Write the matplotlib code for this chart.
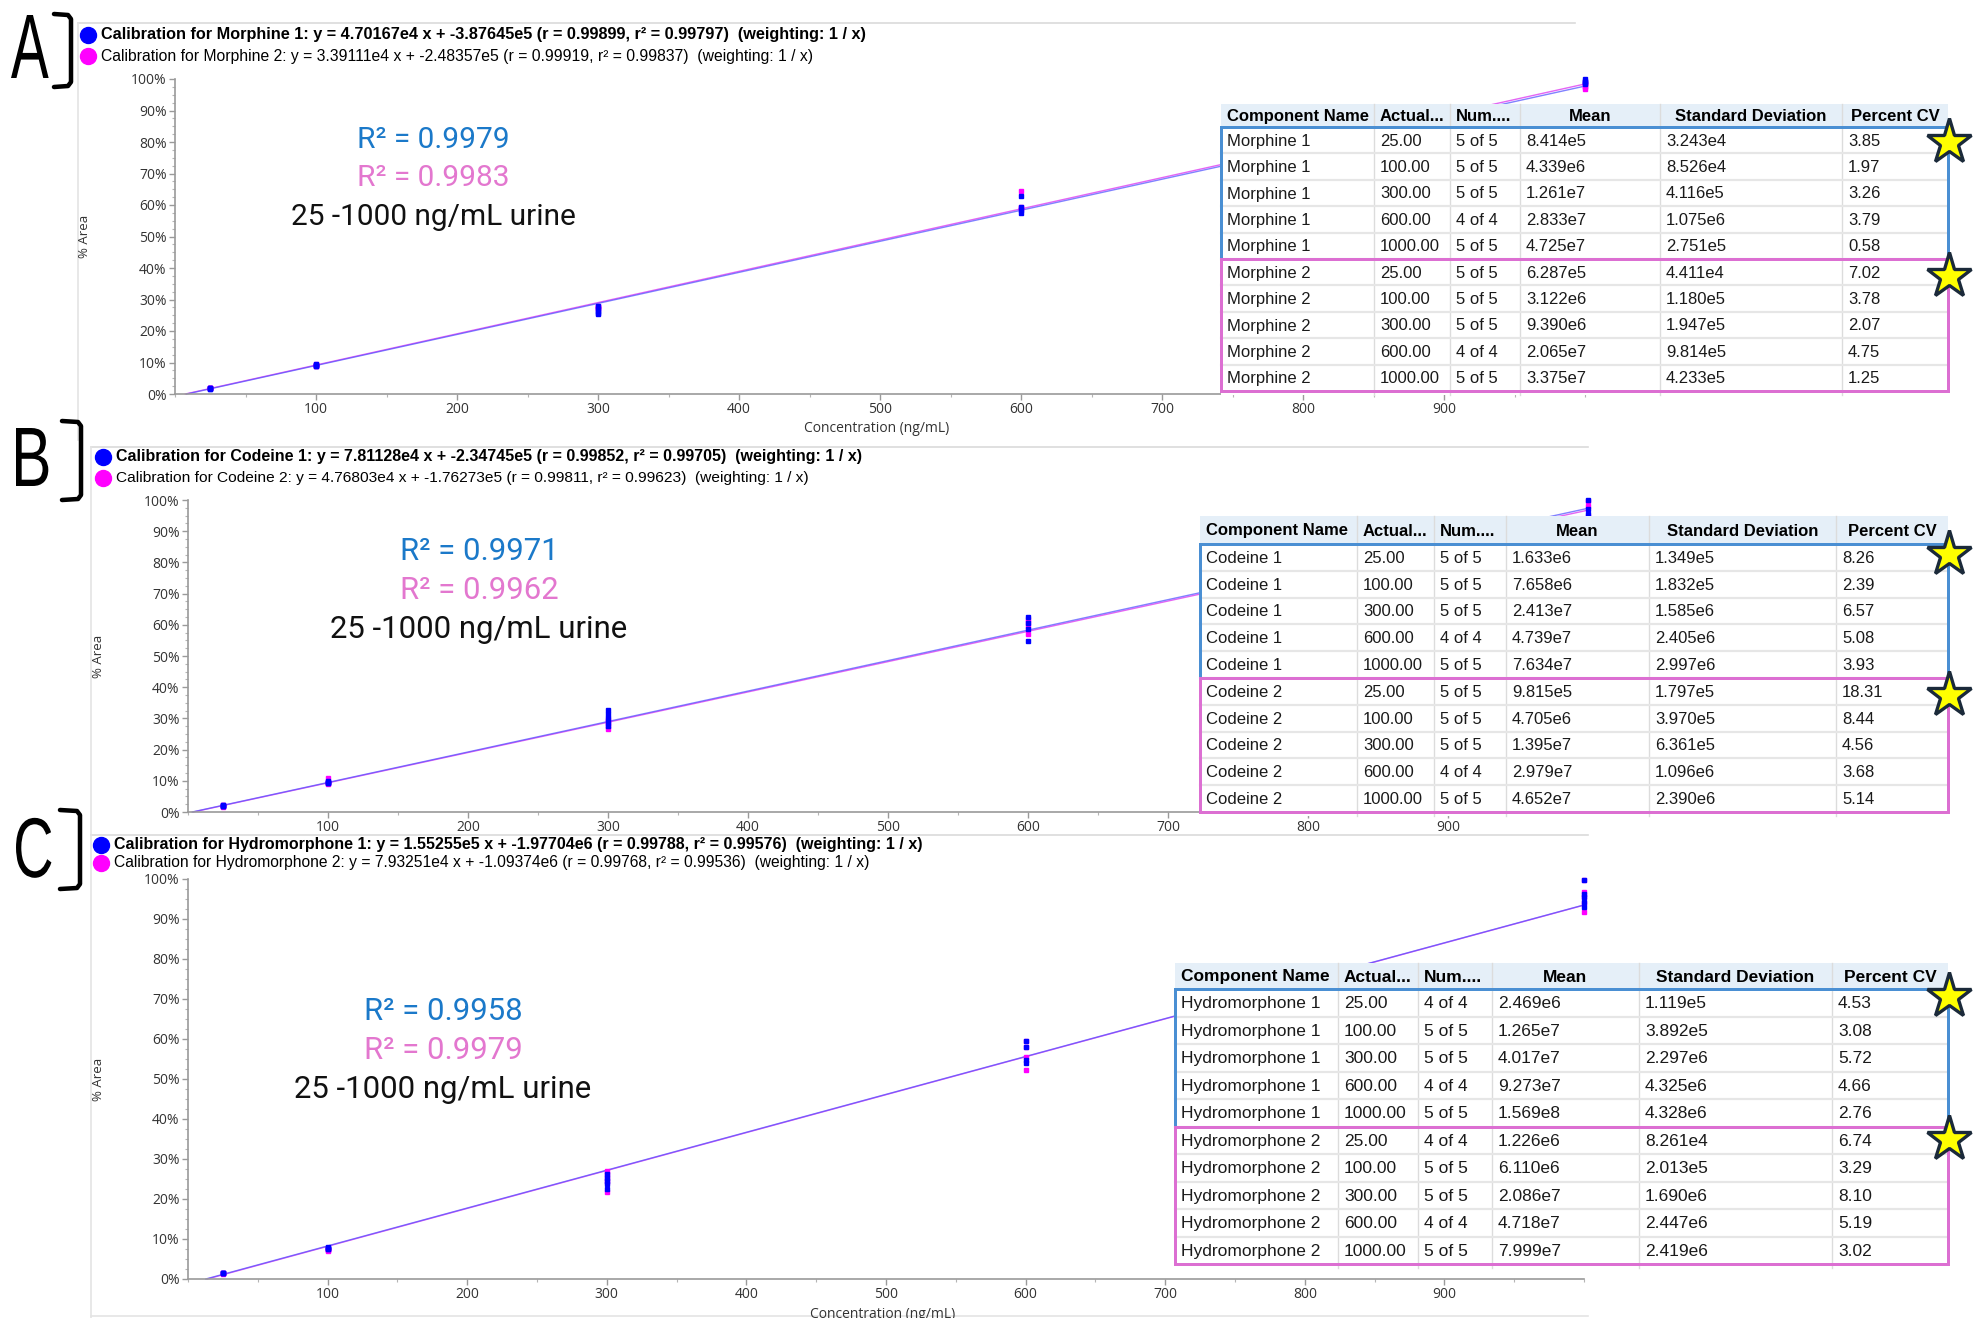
import numpy as np
import matplotlib
matplotlib.use("Agg")
import matplotlib.pyplot as plt
from matplotlib.patches import Rectangle, PathPatch
from matplotlib.ticker import MultipleLocator
from matplotlib.textpath import TextPath
from matplotlib.font_manager import FontProperties
from matplotlib.transforms import Affine2D

W, H, DPI = 1984, 1318, 100

# ---------------------------------------------------------------- data
conc_levels = [25, 100, 300, 600, 1000]
x_tick_values = [100, 200, 300, 400, 500, 600, 700, 800, 900]
y_tick_values = [0, 10, 20, 30, 40, 50, 60, 70, 80, 90, 100]

# calibration fits: slope, intercept, r, r^2
morphine1_fit = (4.70167e4, -3.87645e5, 0.99899, 0.99797)
morphine2_fit = (3.39111e4, -2.48357e5, 0.99919, 0.99837)
codeine1_fit = (7.81128e4, -2.34745e5, 0.99852, 0.99705)
codeine2_fit = (4.76803e4, -1.76273e5, 0.99811, 0.99623)
hydro1_fit = (1.55255e5, -1.97704e6, 0.99788, 0.99576)
hydro2_fit = (7.93251e4, -1.09374e6, 0.99768, 0.99536)

# peak area corresponding to 100 % on the y axis
morphine1_full_scale = 4.77e7
morphine2_full_scale = 3.42e7
codeine1_full_scale = 8.00e7
codeine2_full_scale = 4.91e7
hydro1_full_scale = 1.639e8
hydro2_full_scale = 8.37e7

# replicate responses (% area) per calibration level
morphine1_pct = [[1.70, 1.74, 1.76, 1.80, 1.82],
                 [8.9, 9.0, 9.1, 9.2, 9.4],
                 [25.3, 25.8, 26.3, 27.0, 27.8],
                 [57.5, 58.5, 59.5, 62.9],
                 [98.4, 98.8, 99.1, 99.5, 100.0]]
morphine2_pct = [[1.75, 1.80, 1.84, 1.88, 1.92],
                 [8.8, 8.9, 9.1, 9.2, 9.4],
                 [27.0, 27.3, 27.5, 27.7, 28.0],
                 [58.8, 59.0, 59.5, 64.3],
                 [96.9, 97.4, 97.9, 98.4, 99.0]]
codeine1_pct = [[1.85, 1.95, 2.0, 2.1, 2.3],
                [9.3, 9.45, 9.55, 9.7, 9.85],
                [27.5, 29.0, 30.2, 31.5, 32.8],
                [54.9, 58.8, 60.6, 62.5],
                [91.0, 93.5, 95.5, 97.0, 100.0]]
codeine2_pct = [[1.6, 1.8, 2.0, 2.2, 2.4],
                [8.9, 9.2, 9.4, 9.6, 10.8],
                [26.6, 27.6, 28.6, 29.3, 29.9],
                [57.0, 59.5, 61.0, 62.0],
                [88.5, 92.5, 95.0, 98.0, 99.6]]
hydro1_pct = [[1.40, 1.45, 1.55, 1.60],
              [7.4, 7.6, 7.7, 7.8, 8.0],
              [22.5, 23.8, 24.6, 25.3, 26.3],
              [54.0, 54.8, 58.0, 59.4],
              [93.0, 94.2, 95.5, 96.2, 99.8]]
hydro2_pct = [[1.35, 1.42, 1.50, 1.57],
              [7.0, 7.2, 7.3, 7.4, 7.6],
              [21.8, 24.3, 25.2, 26.2, 26.9],
              [52.3, 55.5, 58.0, 59.6],
              [91.8, 94.0, 95.5, 96.8, 99.8]]

r2_labels_A = ["0.9979", "0.9983"]
r2_labels_B = ["0.9971", "0.9962"]
r2_labels_C = ["0.9958", "0.9979"]
range_label = "25 -1000 ng/mL urine"

# statistics tables
table_header = ["Component Name", "Actual...", "Num....", "Mean",
                "Standard Deviation", "Percent CV"]
actual_col = ["25.00", "100.00", "300.00", "600.00", "1000.00"] * 2

morphine_names = ["Morphine 1"] * 5 + ["Morphine 2"] * 5
morphine_num = ["5 of 5", "5 of 5", "5 of 5", "4 of 4", "5 of 5"] * 2
morphine_mean = ["8.414e5", "4.339e6", "1.261e7", "2.833e7", "4.725e7",
                 "6.287e5", "3.122e6", "9.390e6", "2.065e7", "3.375e7"]
morphine_sd = ["3.243e4", "8.526e4", "4.116e5", "1.075e6", "2.751e5",
               "4.411e4", "1.180e5", "1.947e5", "9.814e5", "4.233e5"]
morphine_cv = ["3.85", "1.97", "3.26", "3.79", "0.58",
               "7.02", "3.78", "2.07", "4.75", "1.25"]

codeine_names = ["Codeine 1"] * 5 + ["Codeine 2"] * 5
codeine_num = ["5 of 5", "5 of 5", "5 of 5", "4 of 4", "5 of 5"] * 2
codeine_mean = ["1.633e6", "7.658e6", "2.413e7", "4.739e7", "7.634e7",
                "9.815e5", "4.705e6", "1.395e7", "2.979e7", "4.652e7"]
codeine_sd = ["1.349e5", "1.832e5", "1.585e6", "2.405e6", "2.997e6",
              "1.797e5", "3.970e5", "6.361e5", "1.096e6", "2.390e6"]
codeine_cv = ["8.26", "2.39", "6.57", "5.08", "3.93",
              "18.31", "8.44", "4.56", "3.68", "5.14"]

hydro_names = ["Hydromorphone 1"] * 5 + ["Hydromorphone 2"] * 5
hydro_num = ["4 of 4", "5 of 5", "5 of 5", "4 of 4", "5 of 5"] * 2
hydro_mean = ["2.469e6", "1.265e7", "4.017e7", "9.273e7", "1.569e8",
              "1.226e6", "6.110e6", "2.086e7", "4.718e7", "7.999e7"]
hydro_sd = ["1.119e5", "3.892e5", "2.297e6", "4.325e6", "4.328e6",
            "8.261e4", "2.013e5", "1.690e6", "2.447e6", "2.419e6"]
hydro_cv = ["4.53", "3.08", "5.72", "4.66", "2.76",
            "6.74", "3.29", "8.10", "5.19", "3.02"]

# ---------------------------------------------------------------- style
BLUE_PT = "#0000ff"
PINK_PT = "#ff00ff"
BLUE_LINE = "#5050ff"
PINK_LINE = "#e464f4"
R2_BLUE = "#1b79c9"
R2_PINK = "#e377cf"
BOX_BLUE = "#4a8fd3"
BOX_PINK = "#dc6fd2"
AXIS_GRAY = "#9a9a9a"
TEXT_GRAY = "#333333"
UI_FONT = ["Liberation Sans Narrow", "Liberation Sans", "DejaVu Sans"]
TICK_FONT = ["Open Sans", "DejaVu Sans"]
BIG_FONT = ["Roboto", "DejaVu Sans"]

fig = plt.figure(figsize=(W / DPI, H / DPI), dpi=DPI)
fig.patch.set_facecolor("white")

back = fig.add_axes([0, 0, 1, 1], zorder=0)
back.set_xlim(0, W)
back.set_ylim(H, 0)
back.axis("off")

over = fig.add_axes([0, 0, 1, 1], zorder=5)
over.set_xlim(0, W)
over.set_ylim(H, 0)
over.axis("off")
over.patch.set_alpha(0)

renderer = fig.canvas.get_renderer()


def px(v):
    """pixel length -> points"""
    return v * 72.0 / DPI


def sci(v):
    mant, ex = f"{v:.5e}".split("e")
    return f"{mant}e{int(ex)}"


def fit_label(name, fit):
    m, b, r, r2 = fit
    return (f"Calibration for {name}: y = {sci(m)} x + {sci(b)} "
            f"(r = {r:.5f}, r\u00b2 = {r2:.5f})  (weighting: 1 / x)")


def fitted_text(x, y, s, width, size0, **kw):
    t = over.text(x, y, s, fontsize=size0, va="center", ha="left", **kw)
    w = t.get_window_extent(renderer).width
    t.set_fontsize(size0 * width / w)
    return t


def condensed_letter(ch, left, base, cap, squeeze):
    """Draw a tall, narrow panel letter as a filled outline."""
    tp = TextPath((0, 0), ch, size=100,
                  prop=FontProperties(family="Liberation Sans"))
    ext = tp.get_extents()
    k = cap / ext.height
    tr = (Affine2D().translate(-ext.x0, 0).scale(k * squeeze, -k)
          .translate(left, base) + over.transData)
    over.add_patch(PathPatch(tp, transform=tr, facecolor="black",
                             edgecolor="none", zorder=6))


def draw_panel(frame, letter, plot_box, fits, scales, pcts, names,
               legend_pos, legend_widths, r2_vals, r2_pos, r2_size,
               table, show_xlabel):
    # light frame of the exported plot window
    fx0, fy0, fx1, fy1 = frame
    back.plot([fx0, fx1], [fy0, fy0], color="#dadada", lw=1.2)
    back.plot([fx0, fx0], [fy0, fy1], color="#e4e4e4", lw=1.2)

    # panel letter with bracket
    condensed_letter(letter["text"], letter["left"], letter["base"],
                     letter["cap"], letter["squeeze"])
    bx0, bx1, by0, by1 = letter["bracket"]
    over.plot([bx0, bx1 - 3, bx1, bx1, bx1 - 3, bx0],
              [by0, by0 + 1, by0 + 5, by1 - 5, by1 - 1, by1],
              color="black", lw=px(4.5), solid_joinstyle="round",
              solid_capstyle="round")

    # legend header
    lgx, lgy1, lgy2 = legend_pos
    for (yy, col, txt, wd, bold) in [
            (lgy1, BLUE_PT, fit_label(names[0], fits[0]), legend_widths[0], True),
            (lgy2, PINK_PT, fit_label(names[1], fits[1]), legend_widths[1], False)]:
        over.plot([lgx - 13], [yy], "o", ms=11.5, color=col, mec=col)
        fitted_text(lgx, yy, txt, wd, 10, family=UI_FONT,
                    fontweight="bold" if bold else "normal", color="black")

    # plot axes
    x0, y_top, y_bot, p100 = plot_box
    ax = fig.add_axes([x0 / W, (H - y_bot) / H, p100 * 10 / W,
                       (y_bot - y_top) / H], zorder=2)
    ax.set_facecolor("none")
    ax.set_xlim(0, 1000)
    ax.set_ylim(0, 100)
    for s in ("top", "right"):
        ax.spines[s].set_visible(False)
    for s in ("left", "bottom"):
        ax.spines[s].set_color(AXIS_GRAY)
        ax.spines[s].set_linewidth(1.2)
    ax.set_xticks(x_tick_values)
    ax.set_xticklabels([str(v) for v in x_tick_values])
    ax.set_yticks(y_tick_values)
    ax.set_yticklabels([f"{v}%" for v in y_tick_values])
    ax.xaxis.set_minor_locator(MultipleLocator(50))
    ax.yaxis.set_minor_locator(MultipleLocator(2.5))
    ax.tick_params(which="major", length=4, width=1, color=AXIS_GRAY,
                   labelsize=10, labelcolor=TEXT_GRAY, pad=2)
    ax.tick_params(which="minor", length=2, width=0.8, color="#b5b5b5")
    for lab in ax.get_xticklabels() + ax.get_yticklabels():
        lab.set_family(TICK_FONT)

    # regression lines (pink beneath, blue above)
    for fit, fs, col, alpha in [(fits[1], scales[1], PINK_LINE, 1.0),
                                (fits[0], scales[0], BLUE_LINE, 0.72)]:
        m, b = fit[0], fit[1]
        xs = np.array([-b / m, 1000.0])
        ax.plot(xs, (m * xs + b) / fs * 100, color=col, lw=1.0, alpha=alpha,
                clip_on=False, zorder=2)

    # replicate points
    for reps, col in [(pcts[1], PINK_PT), (pcts[0], BLUE_PT)]:
        for c, vals in zip(conc_levels, reps):
            ax.plot([c] * len(vals), vals, "s", ms=3.0, color=col, mec=col,
                    clip_on=False, zorder=3)

    # axis titles
    ax_cx = x0 + p100 * 5
    over.text(x0 - 90, (y_top + y_bot) / 2, "% Area", rotation=90,
              ha="center", va="center", fontsize=9.5, family=TICK_FONT,
              color=TEXT_GRAY, zorder=1)
    if show_xlabel:
        over.text(ax_cx - 3, y_bot + 35, "Concentration (ng/mL)", ha="center",
                  va="center", fontsize=10, family=TICK_FONT, color=TEXT_GRAY)

    # R^2 annotations
    rx, ry = r2_pos
    over.text(rx, ry, f"R\u00b2 = {r2_vals[0]}", ha="center", va="center",
              fontsize=r2_size, family=BIG_FONT, color=R2_BLUE)
    over.text(rx, ry + 38.5, f"R\u00b2 = {r2_vals[1]}", ha="center",
              va="center", fontsize=r2_size, family=BIG_FONT, color=R2_PINK)
    over.text(rx, ry + 77, range_label, ha="center", va="center",
              fontsize=r2_size, family=BIG_FONT, color="#111111")

    # statistics table
    cols = table["cols"]
    top, hh, rh = table["top"], table["header_h"], table["row_h"]
    cells = table["cells"]
    fsz = table["size"]
    left, right = cols[0], cols[-1]
    bottom = top + hh + rh * 10
    over.add_patch(Rectangle((left, top), right - left, bottom - top + 4,
                             facecolor="white", edgecolor="none", zorder=1))
    over.add_patch(Rectangle((left, top), right - left, hh,
                             facecolor="#e5eff8", edgecolor="none", zorder=1))
    for xc in cols[1:-1]:
        over.plot([xc, xc], [top, bottom + 4], color="#dcdcdc", lw=1,
                  zorder=2)
    for i in range(1, 10):
        yy = top + hh + rh * i
        over.plot([left, right], [yy, yy], color="#e6e6e6", lw=1.6, zorder=2)
    for j, htxt in enumerate(table_header):
        if j < 3:
            hx, ha = cols[j] + 6, "left"
        else:
            hx, ha = (cols[j] + cols[j + 1]) / 2, "center"
        over.text(hx, top + hh / 2 + 1, htxt, ha=ha, va="center",
                  fontsize=fsz, fontweight="bold", family=UI_FONT,
                  color="black", zorder=3)
    for i in range(10):
        yy = top + hh + rh * (i + 0.5) + 1
        for j, col_vals in enumerate(cells):
            over.text(cols[j] + 6, yy, col_vals[i], ha="left", va="center",
                      fontsize=fsz, family=UI_FONT, color="#1a1a1a", zorder=3)
    mid = top + hh + rh * 5
    over.add_patch(Rectangle((left, top + hh), right - left, rh * 5,
                             facecolor="none", edgecolor=BOX_BLUE,
                             lw=px(3), zorder=4))
    over.add_patch(Rectangle((left, mid), right - left, rh * 5,
                             facecolor="none", edgecolor=BOX_PINK,
                             lw=px(3), zorder=4))
    for sy in table["stars"]:
        over.plot([right + 1], [sy], marker="*", ms=34, mfc="#ffff00",
                  mec="#1b2a3a", mew=2.4, zorder=6)


# ---------------------------------------------------------------- panel A
draw_panel(frame=(78, 23, 1575, 440),
           letter=dict(text="A", left=11, base=78, cap=63, squeeze=0.62,
                       bracket=(54, 71, 14, 87)),
           plot_box=(175, 79, 394, 141),
           fits=(morphine1_fit, morphine2_fit),
           scales=(morphine1_full_scale, morphine2_full_scale),
           pcts=(morphine1_pct, morphine2_pct),
           names=("Morphine 1", "Morphine 2"),
           legend_pos=(101, 35, 56), legend_widths=(766, 709),
           r2_vals=r2_labels_A, r2_pos=(433, 140), r2_size=21.5,
           table=dict(cols=[1221, 1374, 1450, 1520, 1660, 1842, 1948],
                      top=104, header_h=23, row_h=26.4, size=12,
                      cells=[morphine_names, actual_col, morphine_num,
                             morphine_mean, morphine_sd, morphine_cv],
                      stars=[142, 276]),
           show_xlabel=True)

# ---------------------------------------------------------------- panel B
draw_panel(frame=(91, 447, 1588, 835),
           letter=dict(text="B", left=16, base=486, cap=58, squeeze=0.72,
                       bracket=(62, 81, 421, 500)),
           plot_box=(188, 500, 812, 140),
           fits=(codeine1_fit, codeine2_fit),
           scales=(codeine1_full_scale, codeine2_full_scale),
           pcts=(codeine1_pct, codeine2_pct),
           names=("Codeine 1", "Codeine 2"),
           legend_pos=(116, 457, 478), legend_widths=(747, 694),
           r2_vals=r2_labels_B, r2_pos=(479, 552), r2_size=22.4,
           table=dict(cols=[1200, 1357, 1434, 1506, 1649, 1836, 1948],
                      top=516, header_h=28, row_h=26.8, size=12,
                      cells=[codeine_names, actual_col, codeine_num,
                             codeine_mean, codeine_sd, codeine_cv],
                      stars=[554, 695]),
           show_xlabel=False)

# ---------------------------------------------------------------- panel C
draw_panel(frame=(91, 835, 1588, 1318),
           letter=dict(text="C", left=16, base=877, cap=60, squeeze=0.66,
                       bracket=(60, 80, 810, 889)),
           plot_box=(188, 879, 1279, 139.6),
           fits=(hydro1_fit, hydro2_fit),
           scales=(hydro1_full_scale, hydro2_full_scale),
           pcts=(hydro1_pct, hydro2_pct),
           names=("Hydromorphone 1", "Hydromorphone 2"),
           legend_pos=(114, 845, 863), legend_widths=(810, 754),
           r2_vals=r2_labels_C, r2_pos=(443, 1012), r2_size=22.4,
           table=dict(cols=[1175, 1338, 1418, 1492, 1639, 1832, 1948],
                      top=963, header_h=26, row_h=27.5, size=12.5,
                      cells=[hydro_names, actual_col, hydro_num,
                             hydro_mean, hydro_sd, hydro_cv],
                      stars=[996, 1139]),
           show_xlabel=True)

back.plot([91, 1588], [1316, 1316], color="#e4e4e4", lw=1.2)

fig.savefig("out.png", dpi=DPI, facecolor="white")
